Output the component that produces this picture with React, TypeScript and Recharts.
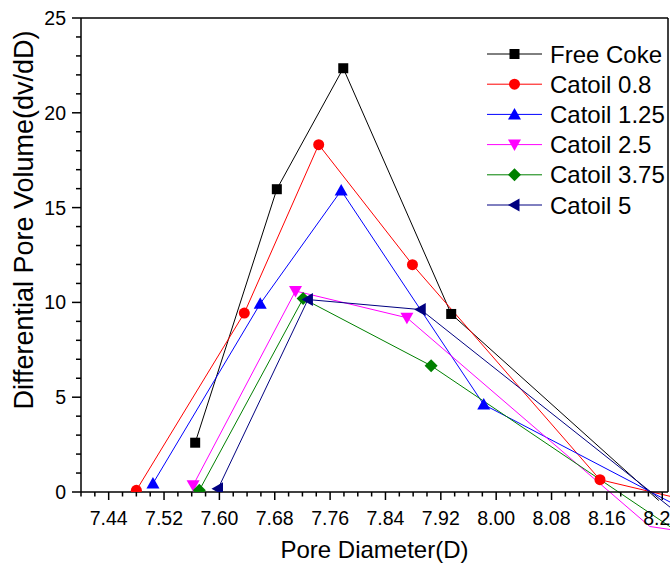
import { LineChart, Line, XAxis, YAxis, Legend, ReferenceLine } from 'recharts';

const FONT = '"Liberation Sans", Arial, sans-serif';

// axis ranges / ticks
const xMin = 7.4;
const xMax = 8.2483;
const xMajorTicks = [7.44, 7.52, 7.6, 7.68, 7.76, 7.84, 7.92, 8.0, 8.08, 8.16, 8.24];
const xMinorTicks = Array.from({ length: 43 }, (_, i) => +(7.4 + i * 0.02).toFixed(2));
const yTicks = Array.from({ length: 26 }, (_, i) => i);

// series (pore diameter, dv/dD)
const freeCokeX = [7.565, 7.683, 7.779, 7.935, 8.235];
const freeCokeY = [2.6, 15.97, 22.35, 9.39, -0.45];

const catoil08X = [7.48, 7.636, 7.7435, 7.879, 8.15, 8.3];
const catoil08Y = [0.09, 9.44, 18.32, 11.99, 0.65, -0.65];

const catoil125X = [7.504, 7.659, 7.776, 7.982, 8.3];
const catoil125Y = [0.45, 9.93, 15.9, 4.61, -1.46];

const catoil25X = [7.562, 7.71, 7.871, 8.222, 8.3];
const catoil25Y = [0.35, 10.6, 9.19, -1.82, -2.24];

const catoil375X = [7.571, 7.721, 7.906, 8.3];
const catoil375Y = [0.09, 10.2, 6.66, -3.03];

const catoil5X = [7.598, 7.728, 7.891, 8.3];
const catoil5Y = [0.17, 10.15, 9.62, -2.21];

const toPoints = (xs: number[], ys: number[]) => xs.map((x, i) => ({ x, y: ys[i] }));

const series = [
  { name: 'Free Coke', color: '#000000', shape: 'square', data: toPoints(freeCokeX, freeCokeY) },
  { name: 'Catoil 0.8', color: '#ff0000', shape: 'circle', data: toPoints(catoil08X, catoil08Y) },
  { name: 'Catoil 1.25', color: '#0000ff', shape: 'up', data: toPoints(catoil125X, catoil125Y) },
  { name: 'Catoil 2.5', color: '#ff00ff', shape: 'down', data: toPoints(catoil25X, catoil25Y) },
  { name: 'Catoil 3.75', color: '#008000', shape: 'diamond', data: toPoints(catoil375X, catoil375Y) },
  { name: 'Catoil 5', color: '#000080', shape: 'left', data: toPoints(catoil5X, catoil5Y) },
];

const Marker = ({ shape, cx, cy, color }: any) => {
  switch (shape) {
    case 'square':
      return <rect x={cx - 5} y={cy - 5} width={10} height={10} fill={color} />;
    case 'circle':
      return <circle cx={cx} cy={cy} r={5.5} fill={color} />;
    case 'up':
      return <polygon points={`${cx},${cy - 6.5} ${cx - 6.5},${cy + 5} ${cx + 6.5},${cy + 5}`} fill={color} />;
    case 'down':
      return <polygon points={`${cx},${cy + 6.5} ${cx - 6.5},${cy - 5} ${cx + 6.5},${cy - 5}`} fill={color} />;
    case 'diamond':
      return <polygon points={`${cx},${cy - 6.5} ${cx + 6.5},${cy} ${cx},${cy + 6.5} ${cx - 6.5},${cy}`} fill={color} />;
    default:
      return <polygon points={`${cx - 6.5},${cy} ${cx + 5},${cy - 6.5} ${cx + 5},${cy + 6.5}`} fill={color} />;
  }
};

const makeDot = (shape: string, color: string) => (props: any) => {
  const { cx, cy, index } = props;
  if (cx == null || cy == null) return <g key={`e-${index}`} />;
  return <Marker key={`${shape}-${index}`} shape={shape} cx={cx} cy={cy} color={color} />;
};

const XTick = ({ x, y, payload }: any) => {
  const v = payload.value;
  const major = xMajorTicks.some((t) => Math.abs(t - v) < 1e-6);
  return (
    <g>
      <line x1={x} x2={x} y1={y} y2={y + (major ? 8 : 4.5)} stroke="#000" strokeWidth={1.5} />
      {major && (
        <text x={x} y={y + 33} textAnchor="middle" fontSize={19.5} fontFamily={FONT} fill="#000">
          {v.toFixed(2)}
        </text>
      )}
    </g>
  );
};

const YTick = ({ x, y, payload }: any) => {
  const v = payload.value;
  const major = v % 5 === 0;
  return (
    <g>
      <line x1={x} x2={x - (major ? 9 : 5)} y1={y} y2={y} stroke="#000" strokeWidth={1.5} />
      {major && (
        <text x={x - 15} y={y} dy="0.36em" textAnchor="end" fontSize={19.5} fontFamily={FONT} fill="#000">
          {v}
        </text>
      )}
    </g>
  );
};

// y title sits a bit above the axis centre, as in the original
const YTitle = () => {
  const cx = 25.5;
  const cy = 220;
  return (
    <text x={cx} y={cy} transform={`rotate(-90 ${cx} ${cy})`} textAnchor="middle" dy="0.26em"
      fontSize={27} fontFamily={FONT} fill="#000">
      Differential Pore Volume(dv/dD)
    </text>
  );
};

const LegendBox = () => (
  <svg width={181} height={190} style={{ display: 'block', overflow: 'hidden' }}>
    {series.map((s, i) => {
      const cy = 16 + i * 30.2;
      return (
        <g key={s.name}>
          <line x1={0} x2={55} y1={cy} y2={cy} stroke={s.color} strokeWidth={1} />
          <Marker shape={s.shape} cx={27.5} cy={cy} color={s.color} />
          <text x={63} y={cy} dy="0.36em" fontSize={24} fontFamily={FONT} fill="#000">
            {s.name}
          </text>
        </g>
      );
    })}
  </svg>
);

export default function App() {
  return (
    <div style={{ position: 'absolute', left: 0, top: 0, width: 670, height: 566, overflow: 'hidden', background: '#fff' }}>
      <style>{`.recharts-line, .recharts-line * { clip-path: none !important; }`}</style>
      <LineChart width={670} height={566} margin={{ top: 18, right: 2, bottom: 0, left: 0 }}>
        <XAxis
          type="number"
          dataKey="x"
          domain={[xMin, xMax]}
          allowDataOverflow
          ticks={xMinorTicks}
          interval={0}
          height={74}
          tickSize={0}
          tickMargin={0}
          tickLine={false}
          tick={<XTick />}
          axisLine={{ stroke: '#000', strokeWidth: 1.5 }}
          label={{ value: 'Pore Diameter(D)', position: 'insideBottom', offset: 8, fontSize: 24, fill: '#000', fontFamily: FONT }}
        />
        <YAxis
          type="number"
          dataKey="y"
          domain={[0, 25]}
          allowDataOverflow
          ticks={yTicks}
          interval={0}
          width={81}
          tickSize={0}
          tickMargin={0}
          tickLine={false}
          tick={<YTick />}
          axisLine={{ stroke: '#000', strokeWidth: 1.5 }}
          label={<YTitle />}
        />
        <ReferenceLine y={25} stroke="#000" strokeWidth={1.5} />
        <ReferenceLine x={xMax} stroke="#000" strokeWidth={1.5} />
        {series.map((s) => (
          <Line
            key={s.name}
            data={s.data}
            dataKey="y"
            name={s.name}
            type="linear"
            stroke={s.color}
            strokeWidth={1}
            dot={makeDot(s.shape, s.color)}
            activeDot={false}
            isAnimationActive={false}
          />
        ))}
        <Legend
          layout="vertical"
          align="center"
          verticalAlign="middle"
          content={<LegendBox />}
          wrapperStyle={{ position: 'absolute', left: 487, top: 38, width: 181 }}
        />
      </LineChart>
    </div>
  );
}
